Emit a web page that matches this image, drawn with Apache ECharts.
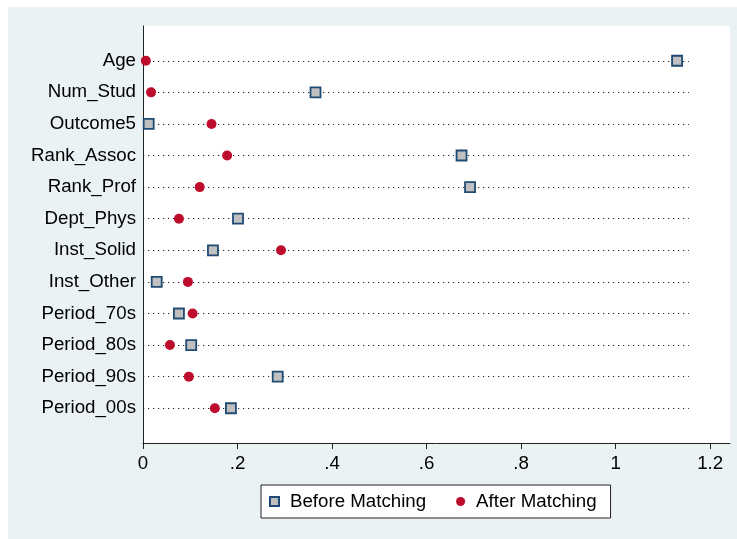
<!DOCTYPE html>
<html>
<head>
<meta charset="utf-8">
<script src="https://cdn.jsdelivr.net/npm/echarts@6/dist/echarts.min.js"></script>
<style>
  html, body { margin: 0; padding: 0; background: #ffffff; }
  #bg { position: absolute; left: 8px; top: 7px; width: 729px; height: 532px; background: #EAF2F3; }
  #chart { position: absolute; left: 0; top: 0; width: 737px; height: 539px; }
</style>
</head>
<body>
<div id="bg"></div>
<div id="chart"></div>
<script>
// ---- data ----
const categories = ['Age', 'Num_Stud', 'Outcome5', 'Rank_Assoc', 'Rank_Prof', 'Dept_Phys',
  'Inst_Solid', 'Inst_Other', 'Period_70s', 'Period_80s', 'Period_90s', 'Period_00s'];
const beforeMatching = [1.130, 0.365, 0.012, 0.674, 0.692, 0.201, 0.148, 0.029, 0.076, 0.102, 0.285, 0.186];
const afterMatching  = [0.006, 0.017, 0.145, 0.178, 0.120, 0.076, 0.292, 0.095, 0.105, 0.057, 0.097, 0.152];
const xTicks = [0, 0.2, 0.4, 0.6, 0.8, 1, 1.2];
const dotLineStart = 0;
const dotLineEnd = 1.155;

const rowIdx = categories.map((c, i) => i);
const fmtX = v => v === 0 ? '0' : String(v).replace(/^0\./, '.');

const chart = echarts.init(document.getElementById('chart'), null, { renderer: 'canvas' });
const fontFamily = '"Liberation Sans", Arial, Helvetica, sans-serif';
const fs = 18.7;

chart.setOption({
  animation: false,
  backgroundColor: 'transparent',
  textStyle: { fontFamily },
  grid: {
    left: 143, top: 26, width: 587, height: 417,
    show: true, backgroundColor: '#ffffff', borderWidth: 0,
    containLabel: false
  },
  xAxis: {
    type: 'value', min: 0, max: 1.242,
    axisLine: { show: true, onZero: false, lineStyle: { color: '#222', width: 1 } },
    axisTick: { show: true, inside: false, length: 6, customValues: xTicks, lineStyle: { color: '#222' } },
    axisLabel: { customValues: xTicks, formatter: fmtX, fontSize: fs, color: '#000', margin: 11, fontFamily },
    splitLine: { show: false }
  },
  yAxis: {
    type: 'value', inverse: true, min: -1.1, max: 12.1,
    axisLine: { show: true, onZero: false, lineStyle: { color: '#222', width: 1 } },
    axisTick: { show: false },
    axisLabel: { customValues: rowIdx, formatter: v => categories[Math.round(v)], fontSize: fs, color: '#000', margin: 7, fontFamily },
    splitLine: { show: false }
  },
  legend: {
    left: 261, top: 485,
    padding: [7, 14, 7, 8],
    backgroundColor: '#ffffff', borderColor: '#222', borderWidth: 1, borderRadius: 0,
    itemGap: 30, itemWidth: 9, itemHeight: 9,
    textStyle: { fontSize: fs, color: '#000', fontFamily, padding: [0, 0, 0, 6] },
    data: ['Before Matching', 'After Matching']
  },
  series: [
    {
      name: 'lines', type: 'scatter', data: [], silent: true, z: 1,
      markLine: {
        silent: true, symbol: 'none', animation: false, z: 1,
        label: { show: false },
        lineStyle: { color: '#222', width: 1.2, type: [1.2, 3.8] },
        data: rowIdx.map(i => [{ coord: [dotLineStart, i] }, { coord: [dotLineEnd, i] }])
      }
    },
    {
      name: 'Before Matching', type: 'scatter', symbol: 'rect', symbolSize: 10,
      itemStyle: { color: '#C0C0C0', borderColor: '#1F4A74', borderWidth: 1.8, opacity: 1 },
      data: beforeMatching.map((v, i) => [v, i]), z: 6
    },
    {
      name: 'After Matching', type: 'scatter', symbol: 'circle', symbolSize: 10,
      itemStyle: { color: '#BE0D2C', opacity: 1 },
      data: afterMatching.map((v, i) => [v, i]), z: 7
    }
  ]
});
</script>
</body>
</html>
